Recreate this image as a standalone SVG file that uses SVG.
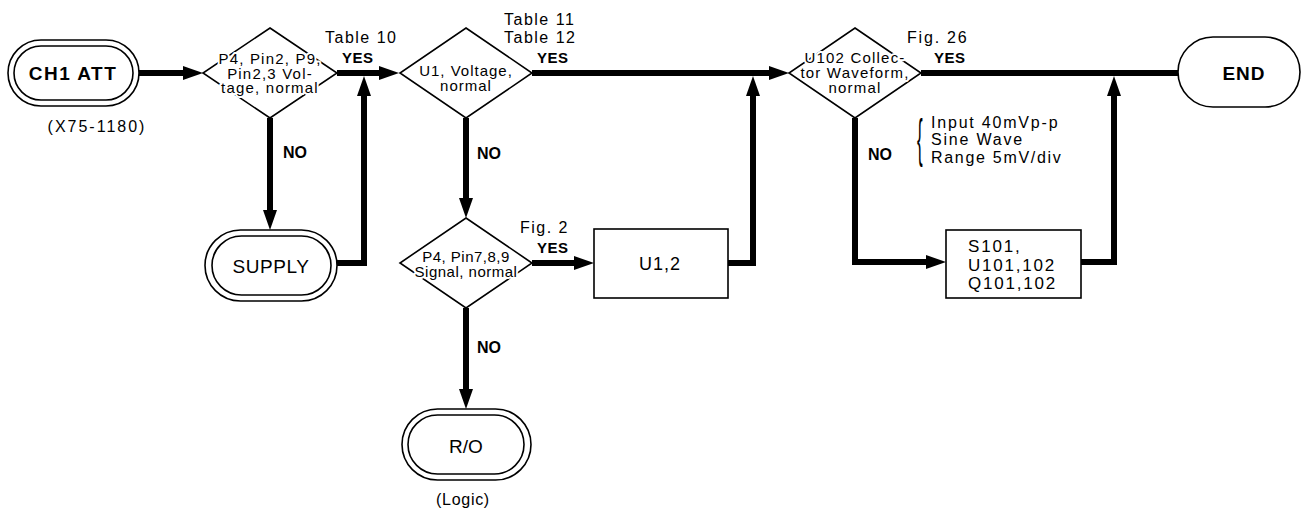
<svg xmlns="http://www.w3.org/2000/svg" width="1303" height="516" viewBox="0 0 1303 516">
<defs>
<style>
.ln{fill:none;stroke:#000;stroke-width:6;stroke-linejoin:miter;stroke-linecap:butt}
.sh{fill:#fff;stroke:#000;stroke-width:1.6}
.t{font-family:"Liberation Sans",Arial,Helvetica,sans-serif;fill:#000}
.dt{font-size:15px;letter-spacing:1px;text-anchor:middle;stroke:#fff;stroke-width:4;paint-order:stroke;stroke-linejoin:round}
.lb{font-size:16px;letter-spacing:1.5px}
.b{font-weight:bold}
.yes{font-size:15px;font-weight:bold;letter-spacing:0.5px}
.no{font-size:16px;font-weight:bold}
.big{font-size:19px;text-anchor:middle}
.mid{text-anchor:middle}
</style>
<marker id="ah" markerUnits="userSpaceOnUse" markerWidth="22" markerHeight="16" refX="6" refY="7" orient="auto">
<path d="M0,0 L20,7 L0,14 z" fill="#000"/>
</marker>
</defs>
<rect width="1303" height="516" fill="#fff"/>

<g id="connectors">
<path class="ln" d="M139,73 H189" marker-end="url(#ah)"/>
<path class="ln" d="M337,73 H385" marker-end="url(#ah)"/>
<path class="ln" d="M270,118 V216" marker-end="url(#ah)"/>
<path class="ln" d="M337,263 H364 V90" marker-end="url(#ah)"/>
<path class="ln" d="M532,73 H775" marker-end="url(#ah)"/>
<path class="ln" d="M466,118 V204" marker-end="url(#ah)"/>
<path class="ln" d="M532,263 H580" marker-end="url(#ah)"/>
<path class="ln" d="M728,263 H753 V90" marker-end="url(#ah)"/>
<path class="ln" d="M466,308 V395" marker-end="url(#ah)"/>
<path class="ln" d="M921,73 H1180"/>
<path class="ln" d="M855,118 V262 H932" marker-end="url(#ah)"/>
<path class="ln" d="M1081,262 H1114 V90" marker-end="url(#ah)"/>
</g>

<g id="ch1att">
<rect class="sh" x="8" y="40" width="131" height="66" rx="33"/>
<rect class="sh" x="14" y="46" width="119" height="54" rx="27"/>
<text class="t big b" x="73" y="80" style="letter-spacing:1.5px">CH1 ATT</text>
<text class="t lb mid" x="97" y="132" style="letter-spacing:2px">(X75-1180)</text>
</g>

<g id="d1">
<polygon class="sh" points="270,28 337,73 270,118 203,73"/>
<text class="t dt" x="270" y="64" style="letter-spacing:1.2px">P4, Pin2, P9,</text>
<text class="t dt" x="270" y="78.5" style="letter-spacing:1.2px">Pin2,3 Vol-</text>
<text class="t dt" x="270" y="93" style="letter-spacing:1.2px">tage, normal</text>
</g>

<g id="supply">
<rect class="sh" x="205" y="230" width="132" height="71" rx="35.5"/>
<rect class="sh" x="212" y="236" width="119" height="59" rx="29.5"/>
<text class="t big" x="271" y="273" style="letter-spacing:0.6px">SUPPLY</text>
</g>

<g id="d2">
<polygon class="sh" points="466,28 532,73 466,118 400,73"/>
<text class="t dt" x="466" y="76">U1, Voltage,</text>
<text class="t dt" x="466" y="91">normal</text>
</g>

<g id="d4">
<polygon class="sh" points="466,218 532,263 466,308 400,263"/>
<text class="t dt" x="466" y="262" style="letter-spacing:0.5px">P4, Pin7,8,9</text>
<text class="t dt" x="466" y="277" style="letter-spacing:0.5px">Signal, normal</text>
</g>

<g id="u12">
<rect class="sh" x="594" y="229" width="134" height="69"/>
<text class="t mid" x="660" y="270" style="font-size:18px;letter-spacing:1px">U1,2</text>
</g>

<g id="ro">
<rect class="sh" x="402" y="409" width="129" height="71" rx="35.5"/>
<rect class="sh" x="408" y="415" width="116" height="59" rx="29.5"/>
<text class="t big" x="466" y="453">R/O</text>
<text class="t lb mid" x="463" y="505" style="letter-spacing:0.7px">(Logic)</text>
</g>

<g id="d3">
<polygon class="sh" points="855,28 921,73 855,118 789,73"/>
<text class="t dt" x="855" y="63" style="letter-spacing:1.2px">U102 Collec-</text>
<text class="t dt" x="855" y="78" style="letter-spacing:1.2px">tor Waveform,</text>
<text class="t dt" x="855" y="93" style="letter-spacing:1.2px">normal</text>
</g>

<g id="s101">
<rect class="sh" x="946" y="230" width="135" height="68"/>
<text class="t" x="968" y="252" style="font-size:17px;letter-spacing:1.8px">S101,</text>
<text class="t" x="968" y="271" style="font-size:17px;letter-spacing:1.8px">U101,102</text>
<text class="t" x="968" y="289" style="font-size:17px;letter-spacing:1.8px">Q101,102</text>
</g>

<g id="end">
<rect class="sh" x="1178" y="37" width="122" height="70" rx="35"/>
<text class="t big b" x="1244" y="80" style="letter-spacing:1px">END</text>
</g>

<g id="labels">
<text class="t lb" x="325" y="43">Table 10</text>
<text class="t yes" x="342" y="63">YES</text>
<text class="t no" x="283" y="158">NO</text>
<text class="t lb" x="504" y="25">Table 11</text>
<text class="t lb" x="504" y="43">Table 12</text>
<text class="t yes" x="537" y="63">YES</text>
<text class="t no" x="477" y="159">NO</text>
<text class="t lb" x="520" y="233">Fig. 2</text>
<text class="t yes" x="537" y="253">YES</text>
<text class="t no" x="477" y="353">NO</text>
<text class="t lb" x="907" y="43" style="letter-spacing:1.8px">Fig. 26</text>
<text class="t yes" x="934" y="63">YES</text>
<text class="t no" x="868" y="160">NO</text>
<text class="t" transform="translate(917,156) scale(1,3.1)" style="font-size:17px">{</text>
<text class="t lb" x="931" y="128" style="letter-spacing:1.8px">Input 40mVp-p</text>
<text class="t lb" x="931" y="145" style="letter-spacing:1.8px">Sine Wave</text>
<text class="t lb" x="931" y="163" style="letter-spacing:1.7px">Range 5mV/div</text>
</g>
</svg>
